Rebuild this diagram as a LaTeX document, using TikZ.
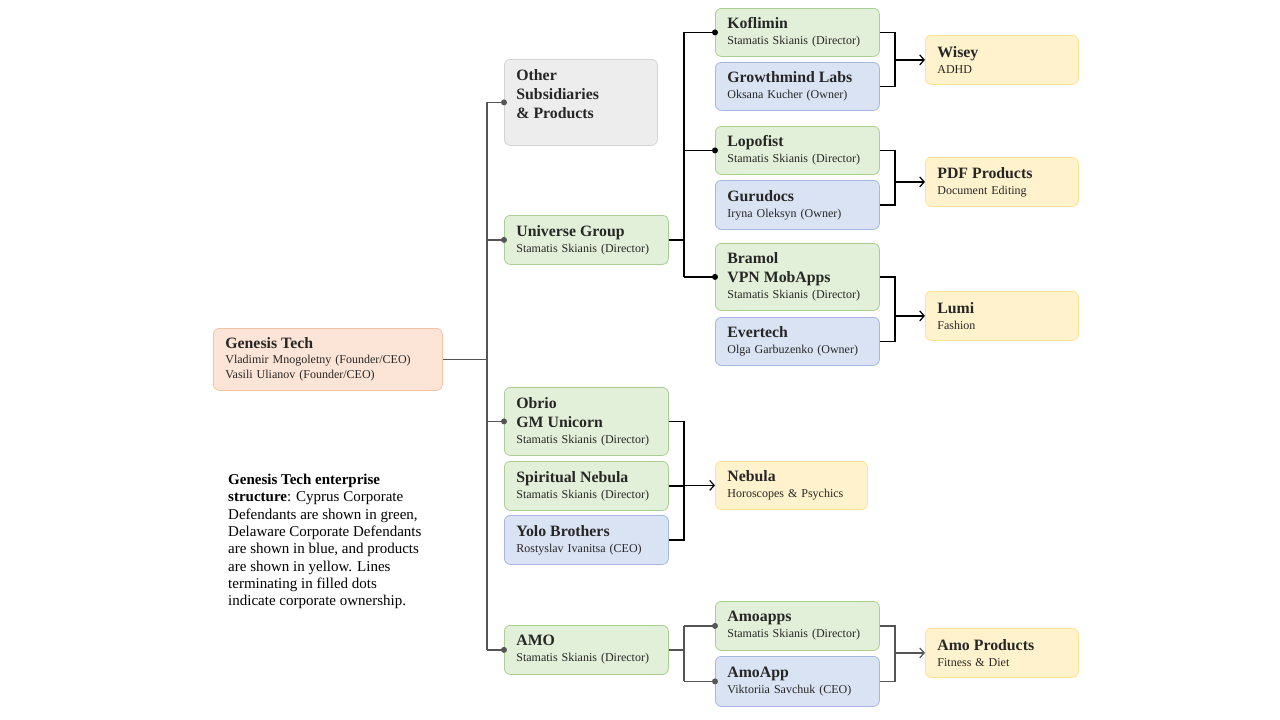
\documentclass[tikz,border=0pt]{standalone}
\usepackage{fontspec}
\setmainfont{Liberation Serif}
\usetikzlibrary{arrows.meta,calc}
\definecolor{gfill}{HTML}{E2F0D9}
\definecolor{gline}{HTML}{A9CF92}
\definecolor{bfill}{HTML}{DAE3F3}
\definecolor{bline}{HTML}{A4B8E2}
\definecolor{yfill}{HTML}{FFF2CC}
\definecolor{yline}{HTML}{FFE38F}
\definecolor{pfill}{HTML}{FCE4D6}
\definecolor{pline}{HTML}{F4C3A3}
\definecolor{afill}{HTML}{EDEDED}
\definecolor{aline}{HTML}{D3D3D3}
\definecolor{txt}{HTML}{262626}
\definecolor{dline}{HTML}{555555}
\newcommand{\boxtitle}[1]{{\fontsize{15.8}{16}\selectfont\bfseries #1}}
\newcommand{\boxsub}[1]{{\fontsize{12}{16}\selectfont #1}}
\tikzset{
  box/.style={rectangle, rounded corners=6pt, line width=0.8pt, anchor=north west,
    align=left, inner xsep=12pt, inner ysep=0pt, text=txt,
    font=\fontsize{12}{16}\selectfont},
  grn/.style={box, fill=gfill, draw=gline, minimum width=164pt, text width=140pt},
  blu/.style={box, fill=bfill, draw=bline, minimum width=164pt, text width=140pt},
  yel/.style={box, fill=yfill, draw=yline, minimum width=153pt, text width=129pt},
  conn/.style={line width=1.2pt, black},
  gconn/.style={line width=1.2pt, dline},
  arr/.style={conn, -{Straight Barb[length=4.5pt,width=10pt,line width=1.2pt]}},
  dotb/.style={circle, fill=black, inner sep=0pt, minimum size=6pt},
  dotg/.style={circle, fill=dline, inner sep=0pt, minimum size=6pt},
}
\begin{document}
\begin{tikzpicture}[x=1pt,y=-1pt]
\useasboundingbox (0,0) rectangle (1280,720);
\fill[white] (0,0) rectangle (1280,720);

% coordinates for bars
\coordinate (tr) at (487,0);
\coordinate (ux) at (684,0);
\coordinate (mx) at (895,0);

% boxes
\node[box, fill=pfill, draw=pline, minimum width=229pt, text width=205pt, minimum height=62pt] (gen) at (213,328)
  {\boxtitle{Genesis Tech}\\[-1pt]\boxsub{Vladimir Mnogoletny (Founder/CEO)}\\[-1.5pt]\boxsub{Vasili Ulianov (Founder/CEO)}};
\node[box, fill=afill, draw=aline, minimum width=153pt, text width=129pt, minimum height=86pt, text depth=54pt] (oth) at (504,59)
  {\boxtitle{Other}\\[3pt]\boxtitle{Subsidiaries}\\[3pt]\boxtitle{\& Products}};
\node[grn, minimum height=49pt] (uni) at (504,215)
  {\boxtitle{Universe Group}\\\boxsub{Stamatis Skianis (Director)}};
\node[grn, minimum height=48pt] (kof) at (715,8)
  {\boxtitle{Koflimin}\\\boxsub{Stamatis Skianis (Director)}};
\node[blu, minimum height=48pt] (gro) at (715,62)
  {\boxtitle{Growthmind Labs}\\\boxsub{Oksana Kucher (Owner)}};
\node[grn, minimum height=48pt] (lop) at (715,126)
  {\boxtitle{Lopofist}\\\boxsub{Stamatis Skianis (Director)}};
\node[blu, minimum height=49pt] (gur) at (715,180)
  {\boxtitle{Gurudocs}\\\boxsub{Iryna Oleksyn (Owner)}};
\node[grn, minimum height=67pt] (bra) at (715,243)
  {\boxtitle{Bramol}\\[3pt]\boxtitle{VPN MobApps}\\\boxsub{Stamatis Skianis (Director)}};
\node[blu, minimum height=48pt] (eve) at (715,317)
  {\boxtitle{Evertech}\\\boxsub{Olga Garbuzenko (Owner)}};
\node[yel, minimum height=49pt] (wis) at (925,35)
  {\boxtitle{Wisey}\\\boxsub{ADHD}};
\node[yel, minimum height=49pt] (pdf) at (925,157)
  {\boxtitle{PDF Products}\\\boxsub{Document Editing}};
\node[yel, minimum height=49pt] (lum) at (925,291)
  {\boxtitle{Lumi}\\\boxsub{Fashion}};
\node[grn, minimum height=68pt] (obr) at (504,387)
  {\boxtitle{Obrio}\\[3pt]\boxtitle{GM Unicorn}\\\boxsub{Stamatis Skianis (Director)}};
\node[grn, minimum height=49pt] (spi) at (504,461)
  {\boxtitle{Spiritual Nebula}\\\boxsub{Stamatis Skianis (Director)}};
\node[blu, minimum height=49pt] (yol) at (504,515)
  {\boxtitle{Yolo Brothers}\\\boxsub{Rostyslav Ivanitsa (CEO)}};
\node[yel, minimum width=152pt, text width=128pt, minimum height=48pt] (neb) at (715,461)
  {\boxtitle{Nebula}\\\boxsub{Horoscopes \& Psychics}};
\node[grn, minimum height=49pt] (amo) at (504,625)
  {\boxtitle{AMO}\\\boxsub{Stamatis Skianis (Director)}};
\node[grn, minimum height=49pt] (amoa) at (715,601)
  {\boxtitle{Amoapps}\\\boxsub{Stamatis Skianis (Director)}};
\node[blu, minimum height=50pt] (amob) at (715,656)
  {\boxtitle{AmoApp}\\\boxsub{Viktoriia Savchuk (CEO)}};
\node[yel, minimum height=49pt] (amp) at (925,628)
  {\boxtitle{Amo Products}\\\boxsub{Fitness \& Diet}};

% caption
\node[anchor=north west, align=left, inner sep=0pt, text=black, font=\fontsize{15}{17.3}\selectfont] (cap) at (228,474)
  {\textbf{Genesis Tech enterprise}\\\textbf{structure}: Cyprus Corporate\\Defendants are shown in green,\\Delaware Corporate Defendants\\are shown in blue, and products\\are shown in yellow. Lines\\terminating in filled dots\\indicate corporate ownership.};

% main trunk
\draw[gconn] (gen.east) -- (gen.east -| tr);
\draw[gconn] (oth.west -| tr) -- (amo.west -| tr);
\foreach \n in {oth,uni,obr,amo}{
  \draw[gconn] (\n.west -| tr) -- (\n.west);
  \node[dotg] at (\n.west) {};
}

% Universe subtree
\draw[conn] (uni.east) -- (uni.east -| ux);
\draw[conn] (kof.west -| ux) -- (bra.west -| ux);
\foreach \n in {kof,lop,bra}{
  \draw[conn] (\n.west -| ux) -- (\n.west);
  \node[dotb] at (\n.west) {};
}

% products of Universe
\draw[conn] (kof.east) -| (wis.west -| mx) |- (gro.east);
\draw[arr] (wis.west -| mx) -- (wis.west);
\draw[conn] (lop.east) -| (pdf.west -| mx) |- (gur.east);
\draw[arr] (pdf.west -| mx) -- (pdf.west);
\draw[conn] (bra.east) -| (lum.west -| mx) |- (eve.east);
\draw[arr] (lum.west -| mx) -- (lum.west);

% Nebula
\draw[conn] (obr.east) -| (neb.west -| ux) |- (yol.east);
\draw[conn] (spi.east) -- (spi.east -| ux);
\draw[arr] (neb.west -| ux) -- (neb.west);

% AMO subtree
\draw[gconn] (amo.east) -- (amo.east -| ux);
\draw[gconn] (amoa.west -| ux) -- (amob.west -| ux);
\foreach \n in {amoa,amob}{
  \draw[gconn] (\n.west -| ux) -- (\n.west);
  \node[dotg] at (\n.west) {};
}
\draw[gconn] (amoa.east) -| (amp.west -| mx) |- (amob.east);
\draw[arr, dline] (amp.west -| mx) -- (amp.west);
\end{tikzpicture}
\end{document}
